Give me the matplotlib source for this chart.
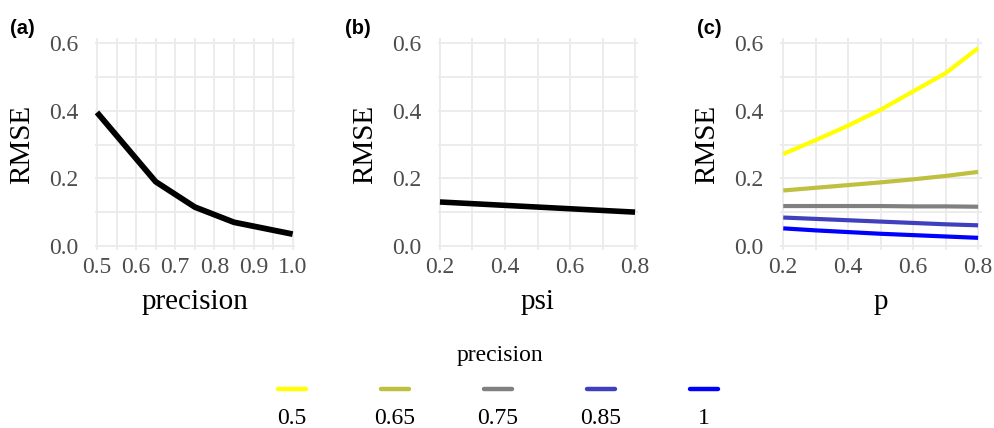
import numpy as np
import matplotlib
matplotlib.use("Agg")
from matplotlib import pyplot as plt

# panel (a): RMSE vs precision
prec = [0.5, 0.65, 0.75, 0.85, 1.0]
rmse_prec = [0.395, 0.19, 0.115, 0.07, 0.035]

# panel (b): RMSE vs psi
psi = [0.2, 0.3, 0.4, 0.5, 0.6, 0.7, 0.8]
rmse_psi = [0.13, 0.125, 0.12, 0.115, 0.11, 0.105, 0.10]

# panel (c): RMSE vs p, one line per precision level
p = [0.2, 0.3, 0.4, 0.5, 0.6, 0.7, 0.8]
levels = ['0.5', '0.65', '0.75', '0.85', '1']
rmse_p = {
    '0.5':  [0.272, 0.313, 0.356, 0.403, 0.457, 0.511, 0.585],
    '0.65': [0.164, 0.172, 0.180, 0.188, 0.197, 0.207, 0.219],
    '0.75': [0.118, 0.118, 0.118, 0.118, 0.117, 0.117, 0.116],
    '0.85': [0.084, 0.080, 0.076, 0.072, 0.068, 0.064, 0.061],
    '1':    [0.052, 0.046, 0.041, 0.036, 0.032, 0.028, 0.024],
}
colors = ['#FFFF00', '#BFBF40', '#808080', '#4040BF', '#0000FF']

plt.rcParams['font.family'] = ['Liberation Serif', 'DejaVu Serif']

W, H = 994, 428
fig = plt.figure(figsize=(W / 100, H / 100), dpi=100)

def px_axes(x0, x1, y0, y1):
    # pixel box -> figure fraction
    return fig.add_axes([x0 / W, 1 - y1 / H, (x1 - x0) / W, (y1 - y0) / H])

def style(ax, xlim, xmajor, xminor, xlabel):
    ax.set_xlim(*xlim)
    ax.set_ylim(-0.012, 0.615)
    ax.set_xticks(xmajor)
    ax.set_xticks(xminor, minor=True)
    ax.set_yticks([0.0, 0.2, 0.4, 0.6])
    ax.set_yticks([0.1, 0.3, 0.5], minor=True)
    ax.set_yticklabels(['0.0', '0.2', '0.4', '0.6'])
    ax.grid(True, which='both', color='#EBEBEB', lw=1.3)
    ax.set_axisbelow(True)
    for s in ax.spines.values():
        s.set_visible(False)
    ax.tick_params(which='both', length=0, labelsize=17, labelcolor='#4D4D4D')
    ax.tick_params(axis='y', pad=12)
    ax.tick_params(axis='x', pad=5)
    ax.set_ylabel('RMSE', fontsize=21, labelpad=10)
    ax.set_xlabel(xlabel, fontsize=21, labelpad=8)

# (a)
axa = px_axes(95, 295, 38, 250)
axa.plot(prec, rmse_prec, color='black', lw=4.2, solid_capstyle='butt')
style(axa, (0.495, 1.006), [0.5, 0.6, 0.7, 0.8, 0.9, 1.0],
      [0.55, 0.65, 0.75, 0.85, 0.95], 'precision')
axa.set_xticklabels(['0.5', '0.6', '0.7', '0.8', '0.9', '1.0'])

# (b)
axb = px_axes(438, 638, 38, 250)
axb.plot(psi, rmse_psi, color='black', lw=4.0, solid_capstyle='butt')
style(axb, (0.194, 0.809), [0.2, 0.4, 0.6, 0.8], [0.3, 0.5, 0.7], 'psi')

# (c)
axc = px_axes(780, 982, 38, 250)
for lev, c in zip(levels, colors):
    axc.plot(p, rmse_p[lev], color=c, lw=3.0, solid_capstyle='butt')
style(axc, (0.19, 0.812), [0.2, 0.4, 0.6, 0.8], [0.3, 0.5, 0.7], 'p')

for x, lab in [(10, '(a)'), (345, '(b)'), (697, '(c)')]:
    fig.text(x / W, 1 - 28 / H, lab, fontsize=14.5, fontweight='bold',
             family=['Liberation Sans', 'DejaVu Sans'], va='center', ha='left')

# legend
fig.text(500 / W, 1 - 356 / H, 'precision', fontsize=17, ha='center', va='center')
axl = px_axes(240.5, 755.5, 375, 425)
axl.set_xlim(0, 5)
axl.set_ylim(0, 1)
axl.axis('off')
for i, (lev, c) in enumerate(zip(levels, colors)):
    axl.plot([i + 0.36, i + 0.64], [0.72, 0.72], color=c, lw=3.2, solid_capstyle='round')
    axl.text(i + 0.5, 0.14, lev, fontsize=17, ha='center', va='center')

fig.savefig('out.png', dpi=100)
